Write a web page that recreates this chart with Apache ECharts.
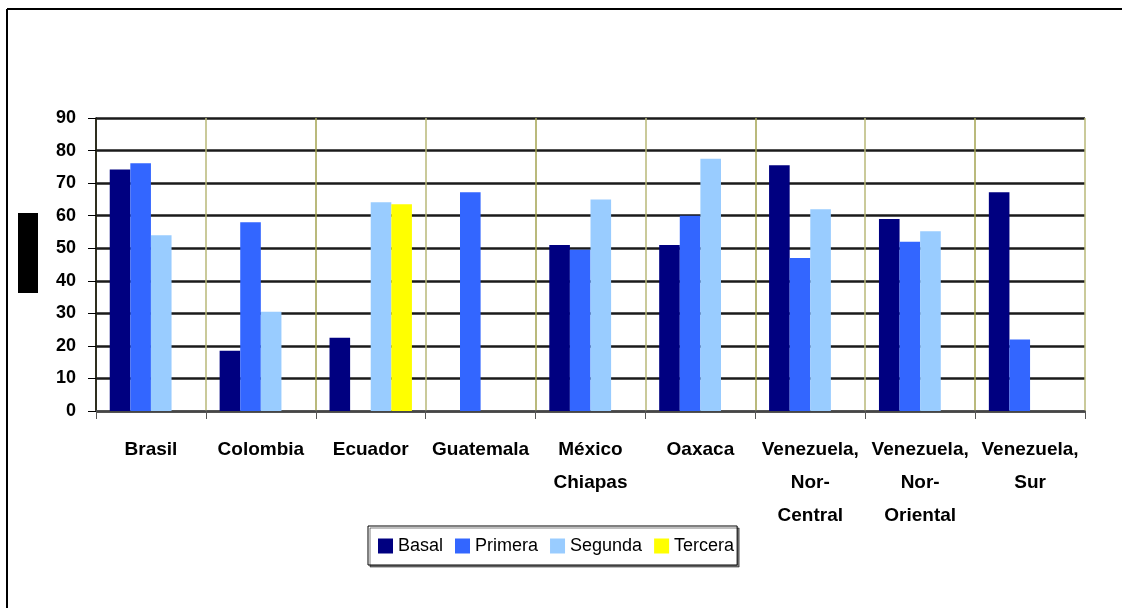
<!DOCTYPE html>
<html><head><meta charset="utf-8">
<script src="https://cdn.jsdelivr.net/npm/echarts@6/dist/echarts.min.js"></script>
<style>html,body{margin:0;padding:0;background:#fff}#c{width:1122px;height:608px}</style>
</head><body><div id="c"></div>
<script>
const categories = ['Brasil','Colombia','Ecuador','Guatemala','México\nChiapas','Oaxaca','Venezuela,\nNor-\nCentral','Venezuela,\nNor-\nOriental','Venezuela,\nSur'];
const basal   = [74.2, 18.5, 22.5, null, 51, 51, 75.5, 59, 67.2];
const primera = [76.1, 58, null, 67.2, 49.5, 60, 47, 52, 22];
const segunda = [54, 30.5, 64.1, null, 65, 77.5, 62, 55.2, null];
const tercera = [null, null, 63.5, null, null, null, null, null, null];
const yTicks = {min: 0, max: 90, interval: 10};

const chart = echarts.init(document.getElementById('c'), null, {renderer: 'canvas'});
const font = 'Liberation Sans, Arial, sans-serif';
function bar(name, data, color) {
  return {name, type: 'bar', data, barGap: '0%', barCategoryGap: '25%', zlevel: 1, z: 5,
    itemStyle: {color}, emphasis: {disabled: true}};
}
chart.setOption({
  animation: false,
  grid: {left: 96, right: 37, top: 118, bottom: 197, containLabel: false},
  legend: {
    left: 368, top: 526, padding: [11, 3, 10, 10],
    itemWidth: 15, itemHeight: 15, itemGap: 12, icon: 'rect',
    borderColor: '#000', borderWidth: 1, backgroundColor: '#fff',
    shadowColor: 'rgba(0,0,0,0.5)', shadowOffsetX: 2, shadowOffsetY: 2, shadowBlur: 0,
    textStyle: {fontFamily: font, fontSize: 18, color: '#000'},
    data: ['Basal','Primera','Segunda','Tercera']
  },
  xAxis: {
    type: 'category', data: categories, z: 0,
    axisLine: {lineStyle: {color: '#555', width: 1.5}},
    axisTick: {show: true, length: 8, lineStyle: {color: '#555'}},
    axisLabel: {fontFamily: font, fontSize: 19, fontWeight: 'bold', color: '#000',
      margin: 22, lineHeight: 33, interval: 0},
    splitLine: {show: true, lineStyle: {color: ['#a3a350', '#b8b878'], width: 1.5}}
  },
  yAxis: {
    type: 'value', min: yTicks.min, max: yTicks.max, interval: yTicks.interval, z: 0,
    axisLine: {show: true, lineStyle: {color: '#000', width: 1.5}},
    axisTick: {show: true, length: 8, lineStyle: {color: '#000'}},
    axisLabel: {fontFamily: font, fontSize: 18, fontWeight: 'bold', color: '#000', margin: 20},
    splitLine: {show: true, lineStyle: {color: '#1a1a1a', width: 2.5}}
  },
  series: [
    bar('Basal', basal, '#000080'),
    bar('Primera', primera, '#3366FF'),
    bar('Segunda', segunda, '#99CCFF'),
    bar('Tercera', tercera, '#FFFF00')
  ],
  graphic: [
    {type: 'line', shape: {x1: 7, y1: 9, x2: 1122, y2: 9}, style: {stroke: '#000', lineWidth: 2}},
    {type: 'line', shape: {x1: 7, y1: 9, x2: 7, y2: 608}, style: {stroke: '#000', lineWidth: 2}},
    {type: 'rect', shape: {x: 18, y: 213, width: 20, height: 80}, style: {fill: '#000'}}
  ]
});
</script></body></html>
